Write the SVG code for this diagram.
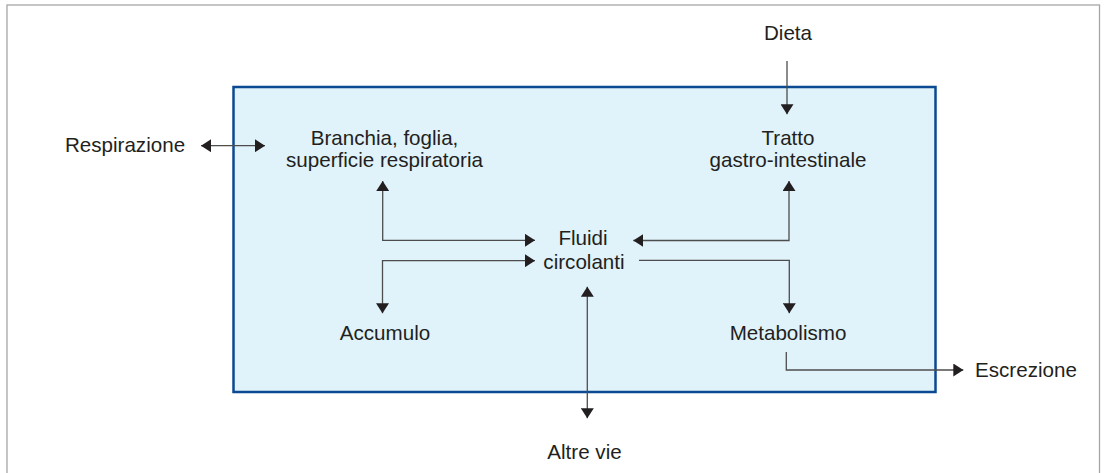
<svg xmlns="http://www.w3.org/2000/svg" width="1104" height="473" viewBox="0 0 1104 473">
<style>
.t{font-family:"Liberation Sans",Arial,sans-serif;font-size:20.6px;fill:#231f20;text-anchor:middle}
.c{fill:none;stroke:#4d4d4d;stroke-width:1.3}
</style>
<defs>
<marker id="ah" viewBox="0 0 10 13" refX="10" refY="6.5" markerWidth="10" markerHeight="13" markerUnits="userSpaceOnUse" orient="auto-start-reverse">
<path d="M0,0 L10,6.5 L0,13 z" fill="#231f20"/>
</marker>
</defs>
<rect x="7" y="5" width="1092.5" height="490" fill="#ffffff" stroke="#a6a6a6" stroke-width="1.3"/>
<g id="system">
<rect x="233.5" y="87" width="702" height="305" fill="#e0f2fa" stroke="#0b4a92" stroke-width="2.5"/>
</g>
<g id="respirazione"><text class="t" x="125" y="152">Respirazione</text></g>
<g id="branchia"><text class="t" x="384.5" y="145">Branchia, foglia,</text><text class="t" x="384.5" y="167">superficie respiratoria</text></g>
<g id="dieta"><text class="t" x="788" y="39.5">Dieta</text></g>
<g id="tratto"><text class="t" x="788" y="145">Tratto</text><text class="t" x="788" y="167">gastro-intestinale</text></g>
<g id="fluidi"><text class="t" x="583" y="245">Fluidi</text><text class="t" x="584" y="269">circolanti</text></g>
<g id="accumulo"><text class="t" x="385" y="340">Accumulo</text></g>
<g id="metabolismo"><text class="t" x="788" y="340">Metabolismo</text></g>
<g id="altre"><text class="t" x="584.5" y="458.5">Altre vie</text></g>
<g id="escrezione"><text class="t" x="975" y="377" style="text-anchor:start">Escrezione</text></g>
<g id="connectors">
<path class="c" d="M201,145.7 H265" marker-start="url(#ah)" marker-end="url(#ah)"/>
<path class="c" d="M382.7,181 V240.3 H535" marker-start="url(#ah)" marker-end="url(#ah)"/>
<path class="c" d="M535,260.7 H382.5 V313.3" marker-start="url(#ah)" marker-end="url(#ah)"/>
<path class="c" d="M789,181 V240.5 H633.3" marker-start="url(#ah)" marker-end="url(#ah)"/>
<path class="c" d="M639,260.3 H789.3 V313.3" marker-end="url(#ah)"/>
<path class="c" d="M587.3,286.7 V418.3" marker-start="url(#ah)" marker-end="url(#ah)"/>
<path class="c" d="M787,61 V114.3" marker-end="url(#ah)"/>
<path class="c" d="M786.3,352 V370 H963.3" marker-end="url(#ah)"/>
</g>
</svg>
